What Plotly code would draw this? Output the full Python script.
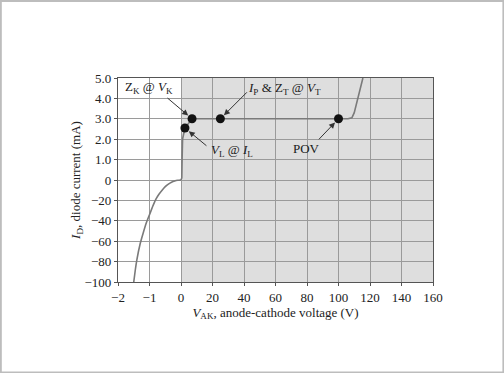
import plotly.graph_objects as go

# ---- data (real units) ----
x_tick_values = [-2, -1, 0, 20, 40, 60, 80, 100, 120, 140, 160]
x_tick_labels = ["−2", "−1", "0", "20", "40", "60", "80", "100", "120", "140", "160"]
y_tick_values = [-100, -80, -60, -40, -20, 0, 1.0, 2.0, 3.0, 4.0, 5.0]
y_tick_labels = ["−100", "−80", "−60", "−40", "−20", "0", "1.0", "2.0", "3.0", "4.0", "5.0"]

rev_v = [-1.5, -1.45, -1.4, -1.3, -1.2, -1.1, -1.0, -0.9, -0.8, -0.7, -0.6,
         -0.5, -0.4, -0.3, -0.2, -0.1, 0.0]
rev_i = [-100, -88, -78, -63, -52, -42, -34, -26, -19, -14, -10,
         -6.5, -4, -2.2, -1, -0.3, 0.0]

fwd_v = [0.0, 0.5, 0.7, 1.0, 2.5, 7, 25, 100, 106, 108.5, 110, 115.5]
fwd_i = [0.0, 0.1, 1.0, 2.0, 2.55, 3.0, 3.0, 3.0, 3.0, 3.05, 3.3, 5.0]

pt_names = ["ZK", "IP", "VL", "POV"]
pt_v = [7, 25, 2.5, 100]
pt_i = [3.0, 3.0, 2.55, 3.0]


# piecewise (broken) scales used by the figure
def xmap(v):
    return v + 2 if v <= 0 else 2 + v / 20.0


def ymap(i):
    return 5 + i / 20.0 if i <= 0 else 5 + i


font_family = "Liberation Serif, Times New Roman, serif"

fig = go.Figure()
fig.add_trace(go.Scatter(
    x=[xmap(v) for v in rev_v], y=[ymap(i) for i in rev_i],
    mode="lines", line=dict(color="#7a7a7a", width=1.6, shape="spline", smoothing=0.4),
    hoverinfo="skip", showlegend=False))
fig.add_trace(go.Scatter(
    x=[xmap(v) for v in fwd_v], y=[ymap(i) for i in fwd_i],
    mode="lines", line=dict(color="#7a7a7a", width=1.6),
    hoverinfo="skip", showlegend=False))
fig.add_trace(go.Scatter(
    x=[xmap(v) for v in pt_v], y=[ymap(i) for i in pt_i],
    mode="markers", marker=dict(color="#111111", size=9),
    hoverinfo="skip", showlegend=False))

# shaded forward region
fig.add_shape(type="rect", xref="x", yref="y", x0=xmap(0), x1=xmap(160), y0=0, y1=10,
              fillcolor="#dedede", line=dict(width=0), layer="below")
# outer image frame
fig.add_shape(type="rect", xref="paper", yref="paper",
              x0=-0.372, x1=1.2235, y0=-0.4435, y1=1.3775,
              line=dict(color="#bdbdbd", width=2), fillcolor="rgba(0,0,0,0)")

# labels
texts = [
    ("Z<sub>K</sub> @ <i>V</i><sub>K</sub>", 0.98, 9.52),
    ("<i>I</i><sub>P</sub> & Z<sub>T</sub> @ <i>V</i><sub>T</sub>", 5.27, 9.48),
    ("<i>V</i><sub>L</sub> @ <i>I</i><sub>L</sub>", 3.62, 6.45),
    ("POV", 5.97, 6.55),
]
for t, x, y in texts:
    fig.add_annotation(x=x, y=y, text=t, showarrow=False,
                       font=dict(family=font_family, size=13, color="#1a1a1a"))

arrows = [(-26, -22), (28, -28), (23, 19), (-21, 22)]
for (ax, ay), v, i in zip(arrows, pt_v, pt_i):
    fig.add_annotation(x=xmap(v), y=ymap(i), text="", showarrow=True,
                       ax=ax, ay=ay, arrowhead=2, arrowsize=1.2, arrowwidth=1,
                       arrowcolor="#333333", standoff=5)

axis_common = dict(
    showgrid=True, gridcolor="#9a9a9a", gridwidth=1,
    showline=True, linecolor="#555555", linewidth=1.2, mirror=True,
    ticks="outside", ticklen=3, tickcolor="#555555",
    zeroline=False,
    tickfont=dict(family=font_family, size=13, color="#222222"),
)

fig.update_xaxes(range=[0, 10], tickmode="array",
                 tickvals=[xmap(v) for v in x_tick_values], ticktext=x_tick_labels,
                 title=dict(text="<i>V</i><sub>AK</sub>, anode-cathode voltage (V)",
                            font=dict(family=font_family, size=13, color="#222222"),
                            standoff=3),
                 **axis_common)
fig.update_yaxes(range=[0, 10], tickmode="array",
                 tickvals=[ymap(i) for i in y_tick_values], ticktext=y_tick_labels,
                 title=dict(text="<i>I</i><sub>D</sub>, diode current (mA)",
                            font=dict(family=font_family, size=13, color="#222222"),
                            standoff=0),
                 **axis_common)

fig.update_layout(
    width=504, height=373,
    margin=dict(l=118, r=71, t=78, b=91),
    paper_bgcolor="white", plot_bgcolor="white",
    showlegend=False,
)

fig.write_html("out.html", config={"displayModeBar": False},
               post_script="document.body.style.margin='0';")
